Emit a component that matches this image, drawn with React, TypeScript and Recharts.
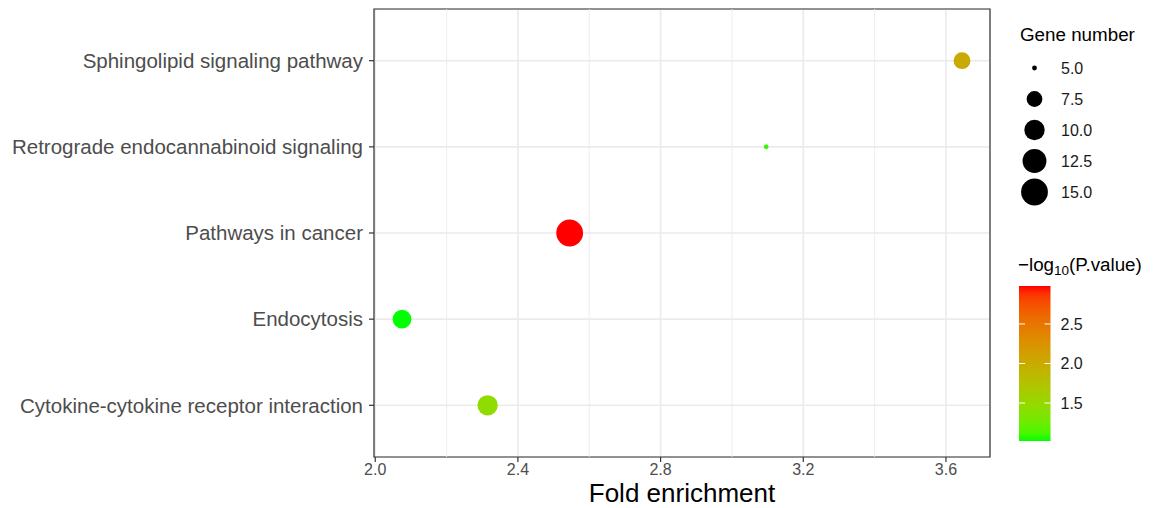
import React from "react";
import {
  ScatterChart,
  Scatter,
  XAxis,
  YAxis,
  CartesianGrid,
  ReferenceLine,
  ReferenceArea,
} from "recharts";

const pathways = [
  "Cytokine-cytokine receptor interaction",
  "Endocytosis",
  "Pathways in cancer",
  "Retrograde endocannabinoid signaling",
  "Sphingolipid signaling pathway",
];
const foldEnrichment = [2.315, 2.075, 2.545, 3.096, 3.645];
const geneNumber = [10, 9, 15, 5, 8];
const negLog10P = [1.45, 1.02, 2.98, 1.06, 2.02];

const xTicks = [2.0, 2.4, 2.8, 3.2, 3.6];
const xMinorTicks = [2.2, 2.6, 3.0, 3.4];
const sizeBreaks = [5.0, 7.5, 10.0, 12.5, 15.0];
const colorBreaks = [1.5, 2.0, 2.5];

const FONT = '"Liberation Sans", Arial, sans-serif';

// ggplot-like expansion of the continuous x scale
const xLo = Math.min(...foldEnrichment);
const xHi = Math.max(...foldEnrichment);
const xPad = (xHi - xLo) * 0.05;
const xDomain = [xLo - xPad, xHi + xPad];

const gMin = 5;
const gMax = 15;
function radius(g: number) {
  const size = 1 + 5 * Math.sqrt((g - gMin) / (gMax - gMin));
  return 2.2 * size + 0.2;
}

// green -> red gradient interpolated in Lab, like scale_colour_gradient
function toLin(c: number) {
  c /= 255;
  return c <= 0.04045 ? c / 12.92 : Math.pow((c + 0.055) / 1.055, 2.4);
}
function fLab(t: number) {
  return t > 0.008856 ? Math.cbrt(t) : 7.787 * t + 16 / 116;
}
function rgbToLab(r: number, g: number, b: number) {
  const R = toLin(r), G = toLin(g), B = toLin(b);
  const X = (0.4124 * R + 0.3576 * G + 0.1805 * B) / 0.95047;
  const Y = 0.2126 * R + 0.7152 * G + 0.0722 * B;
  const Z = (0.0193 * R + 0.1192 * G + 0.9505 * B) / 1.08883;
  const fx = fLab(X), fy = fLab(Y), fz = fLab(Z);
  return [116 * fy - 16, 500 * (fx - fy), 200 * (fy - fz)];
}
function labToHex(L: number, a: number, b: number) {
  const fy = (L + 16) / 116;
  const fx = fy + a / 500;
  const fz = fy - b / 200;
  const inv = (t: number) => (t * t * t > 0.008856 ? t * t * t : (t - 16 / 116) / 7.787);
  const X = 0.95047 * inv(fx), Y = inv(fy), Z = 1.08883 * inv(fz);
  const lin = [
    3.2406 * X - 1.5372 * Y - 0.4986 * Z,
    -0.9689 * X + 1.8758 * Y + 0.0415 * Z,
    0.0557 * X - 0.204 * Y + 1.057 * Z,
  ];
  return (
    "#" +
    lin
      .map((c) => {
        const v = c <= 0.0031308 ? 12.92 * c : 1.055 * Math.pow(c, 1 / 2.4) - 0.055;
        const n = Math.round(Math.max(0, Math.min(1, v)) * 255);
        return n.toString(16).padStart(2, "0");
      })
      .join("")
  );
}
const LOW = rgbToLab(0, 255, 0);
const HIGH = rgbToLab(255, 0, 0);
const pMin = Math.min(...negLog10P);
const pMax = Math.max(...negLog10P);
function colorAt(t: number) {
  return labToHex(
    LOW[0] + (HIGH[0] - LOW[0]) * t,
    LOW[1] + (HIGH[1] - LOW[1]) * t,
    LOW[2] + (HIGH[2] - LOW[2]) * t
  );
}
function pColor(v: number) {
  return colorAt((v - pMin) / (pMax - pMin));
}

const data = pathways.map((name, i) => ({
  name,
  y: i + 1,
  x: foldEnrichment[i],
  genes: geneNumber[i],
  logp: negLog10P[i],
}));

const Dot = (props: any) => {
  const { cx, cy, payload } = props;
  if (cx == null || cy == null) return null;
  return <circle cx={cx} cy={cy} r={radius(payload.genes)} fill={pColor(payload.logp)} />;
};

// legend geometry
const barX = 1019;
const barTop = 286;
const barH = 155;
const barW = 31.5;

export default function App() {
  const stops = Array.from({ length: 21 }, (_, i) => i / 20);
  return (
    <div
      style={{
        position: "absolute",
        left: 0,
        top: 0,
        width: 1158,
        height: 508,
        background: "#fff",
        fontFamily: FONT,
      }}
    >
      <ScatterChart width={1158} height={508} margin={{ top: 9, right: 168, bottom: 0, left: 0 }}>
        <CartesianGrid stroke="#ebebeb" strokeWidth={1.6} />
        {xMinorTicks.map((t) => (
          <ReferenceLine key={t} x={t} stroke="#ebebeb" strokeWidth={0.9} />
        ))}
        <XAxis
          type="number"
          dataKey="x"
          domain={xDomain}
          ticks={xTicks}
          allowDataOverflow
          tickFormatter={(v: number) => v.toFixed(1)}
          tick={{ fill: "#4d4d4d", fontSize: 16, fontFamily: FONT }}
          tickLine={{ stroke: "#333333", strokeWidth: 1.2 }}
          tickSize={5}
          tickMargin={2}
          axisLine={false}
          height={51}
        />
        <YAxis
          type="number"
          dataKey="y"
          domain={[0.4, 5.6]}
          ticks={[1, 2, 3, 4, 5]}
          allowDataOverflow
          tickFormatter={(v: number) => pathways[v - 1]}
          tick={{ fill: "#4d4d4d", fontSize: 20.5, fontFamily: FONT }}
          tickLine={{ stroke: "#333333", strokeWidth: 1.2 }}
          tickSize={5}
          tickMargin={6}
          axisLine={false}
          width={374}
        />
        <ReferenceArea
          x1={xDomain[0]}
          x2={xDomain[1]}
          y1={0.4}
          y2={5.6}
          fill="none"
          fillOpacity={0}
          stroke="#333333"
          strokeWidth={1.2}
          ifOverflow="visible"
        />
        <Scatter data={data} shape={Dot} isAnimationActive={false} />
      </ScatterChart>

      <svg
        width={1158}
        height={508}
        style={{ position: "absolute", left: 0, top: 0, pointerEvents: "none" }}
      >
        <defs>
          <linearGradient id="pbar" x1="0" y1="1" x2="0" y2="0">
            {stops.map((s) => (
              <stop key={s} offset={s} stopColor={colorAt(s)} />
            ))}
          </linearGradient>
        </defs>
        <text x={682} y={502} fontSize={26} fill="#000" fontFamily={FONT} textAnchor="middle">
          Fold enrichment
        </text>

        <text x={1020} y={41} fontSize={18.8} fill="#000" fontFamily={FONT}>
          Gene number
        </text>
        {sizeBreaks.map((g, i) => {
          const cy = 68 + i * 31;
          return (
            <g key={g}>
              <circle cx={1034.5} cy={cy} r={radius(g)} fill="#000" />
              <text x={1061} y={cy + 5.8} fontSize={16} fill="#1a1a1a" fontFamily={FONT}>
                {g.toFixed(1)}
              </text>
            </g>
          );
        })}

        <text x={1018} y={271} fontSize={18.8} fill="#000" fontFamily={FONT}>
          −log
          <tspan fontSize={13.5} dy={4}>
            10
          </tspan>
          <tspan dy={-4}>(P.value)</tspan>
        </text>
        <rect x={barX} y={barTop} width={barW} height={barH} fill="url(#pbar)" />
        {colorBreaks.map((v) => {
          const y = barTop + barH - ((v - pMin) / (pMax - pMin)) * barH;
          return (
            <g key={v}>
              <line x1={barX} x2={barX + 6} y1={y} y2={y} stroke="#fff" strokeWidth={1} />
              <line x1={barX + barW - 6} x2={barX + barW} y1={y} y2={y} stroke="#fff" strokeWidth={1} />
              <text x={1060.5} y={y + 5.8} fontSize={16} fill="#1a1a1a" fontFamily={FONT}>
                {v.toFixed(1)}
              </text>
            </g>
          );
        })}
      </svg>
    </div>
  );
}
